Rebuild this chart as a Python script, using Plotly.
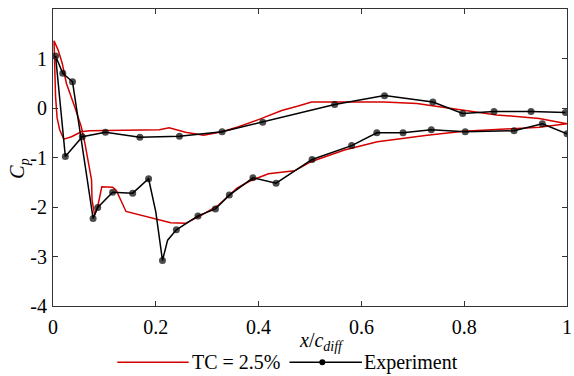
import plotly.graph_objects as go

# CFD (TC = 2.5%) closed loop: trailing edge -> upper surface -> leading edge -> lower surface -> trailing edge
cfd_x = [1.0, 0.946, 0.863, 0.792, 0.741, 0.708, 0.644, 0.503, 0.477, 0.445, 0.406, 0.361, 0.329, 0.293,
         0.258, 0.226, 0.207, 0.071, 0.055, 0.036, 0.021, 0.013, 0.008, 0.005, 0.002,
         0.010, 0.018, 0.026, 0.042, 0.055, 0.062, 0.068, 0.075, 0.076, 0.081, 0.087, 0.095, 0.116, 0.123,
         0.142, 0.178, 0.229, 0.258, 0.290, 0.322, 0.358, 0.384, 0.419, 0.470, 0.503, 0.567, 0.631, 0.728,
         0.799, 0.946, 1.0]
cfd_cp = [-0.32, -0.21, -0.14, -0.03, 0.04, 0.09, 0.12, 0.12, 0.04, -0.05, -0.21, -0.38, -0.48, -0.55,
          -0.49, -0.40, -0.44, -0.46, -0.48, -0.58, -0.63, -0.44, -0.20, 0.23, 1.36,
          1.17, 0.90, 0.50, 0.03, -0.38, -0.71, -1.05, -1.45, -1.86, -2.16, -1.99, -1.59, -1.60, -1.66,
          -2.09, -2.19, -2.32, -2.33, -2.16, -1.96, -1.62, -1.47, -1.33, -1.27, -1.08, -0.85, -0.68, -0.55,
          -0.47, -0.39, -0.32]

# Experiment (measured taps; 0 in exp_marker = line bend without a tap marker)
exp_x = [0.997, 0.930, 0.858, 0.797, 0.739, 0.645, 0.548, 0.408, 0.329, 0.246, 0.169, 0.102, 0.057,
         0.024, 0.005, 0.019, 0.038, 0.078, 0.087, 0.116, 0.155, 0.186, 0.200, 0.213, 0.223, 0.240,
         0.282, 0.316, 0.343, 0.389, 0.434, 0.504, 0.581, 0.630, 0.681, 0.736, 0.802, 0.897, 0.952, 1.0]
exp_cp = [-0.09, -0.07, -0.07, -0.11, 0.12, 0.25, 0.07, -0.29, -0.48, -0.57, -0.59, -0.49, -0.58,
          -0.98, 1.05, 0.70, 0.53, -2.23, -2.01, -1.70, -1.72, -1.43, -2.10, -3.08, -2.67, -2.46,
          -2.18, -2.04, -1.76, -1.41, -1.52, -1.04, -0.76, -0.50, -0.50, -0.44, -0.48, -0.46, -0.32, -0.52]
exp_marker = [1, 1, 1, 1, 1, 1, 1, 1, 1, 1, 1, 1, 1,
              1, 1, 1, 1, 1, 1, 1, 1, 1, 0, 1, 0, 1,
              1, 1, 1, 1, 1, 1, 1, 1, 1, 1, 1, 1, 1, 1]

series_names = ["TC = 2.5%", "Experiment"]
x_title = "<i>x</i>/<i>c</i><sub><i>diff</i></sub>"
y_title = "<i>C</i><sub><i>p</i></sub>"

x_ticks = [0, 0.2, 0.4, 0.6, 0.8, 1]
x_ticktext = ["0", "0.2", "0.4", "0.6", "0.8", "1"]
y_ticks = [-4, -3, -2, -1, 0, 1, 2]
y_ticktext = ["-4", "-3", "-2", "-1", "0", "1", "2"]

font_family = "Liberation Serif, Times New Roman, serif"
FS = 20
RED = "#d40000"

fig = go.Figure()
fig.add_trace(go.Scatter(
    x=cfd_x, y=cfd_cp, mode="lines", name=series_names[0],
    line=dict(color=RED, width=1.5), showlegend=False,
))
fig.add_trace(go.Scatter(
    x=exp_x, y=exp_cp, mode="lines+markers", name=series_names[1],
    line=dict(color="black", width=1.5),
    marker=dict(color="black", size=[7 * m for m in exp_marker], line=dict(color="black", width=0)),
    showlegend=False,
))

axis_common = dict(
    showline=True, linecolor="#333333", linewidth=1, mirror="ticks",
    ticks="inside", ticklen=5, tickcolor="#333333", showgrid=False, zeroline=False,
    tickfont=dict(family=font_family, size=FS, color="black"),
)

fig.update_xaxes(range=[0, 1], tickvals=x_ticks, ticktext=x_ticktext, ticklabeloverflow="allow",
                 ticklabelstandoff=3, **axis_common)
fig.update_yaxes(range=[-4, 2], tickvals=y_ticks, ticktext=y_ticktext, ticklabelstandoff=1,
                 **axis_common)

# legend drawn below the axes (long sample lines as in the reference)
leg_y = -0.189
shapes = [
    dict(type="line", xref="paper", yref="paper", x0=0.125, x1=0.264, y0=leg_y, y1=leg_y,
         line=dict(color=RED, width=1.5)),
    dict(type="line", xref="paper", yref="paper", x0=0.460, x1=0.601, y0=leg_y, y1=leg_y,
         line=dict(color="black", width=1.5)),
    dict(type="circle", xref="paper", yref="paper", xsizemode="pixel", ysizemode="pixel",
         xanchor=0.524, yanchor=leg_y, x0=-3, x1=3, y0=-3, y1=3,
         fillcolor="black", line=dict(color="black", width=0)),
]
annotations = [
    dict(text=series_names[0], xref="paper", yref="paper", x=0.267, y=leg_y, xanchor="left",
         yanchor="middle", showarrow=False, font=dict(family=font_family, size=FS, color="black")),
    dict(text=series_names[1], xref="paper", yref="paper", x=0.601, y=leg_y, xanchor="left",
         yanchor="middle", showarrow=False, font=dict(family=font_family, size=FS, color="black")),
    dict(text=x_title, xref="paper", yref="paper", x=0.522, y=-0.121, xanchor="center",
         yanchor="middle", showarrow=False, font=dict(family=font_family, size=FS, color="black")),
    dict(text=y_title, xref="paper", yref="paper", x=-0.067, y=0.461, xanchor="center",
         yanchor="middle", textangle=-90, showarrow=False,
         font=dict(family=font_family, size=FS, color="black")),
]

fig.update_layout(
    width=574, height=376,
    margin=dict(l=53, r=2, t=9, b=70),
    paper_bgcolor="white", plot_bgcolor="white",
    font=dict(family=font_family, size=FS, color="black"),
    showlegend=False,
    shapes=shapes, annotations=annotations,
)

fig.write_html("out.html")
